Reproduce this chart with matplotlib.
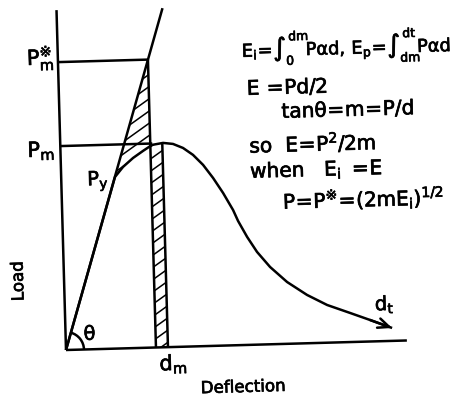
import matplotlib
matplotlib.use('Agg')
import matplotlib.pyplot as plt
import matplotlib.patheffects as pe
import numpy as np
from matplotlib.patches import Arc, Polygon
from matplotlib.collections import LineCollection
from matplotlib.transforms import Affine2D

# load-deflection sketch, values
# (origin at the corner of the axes, same unit on both axes)
curve_d = [0, 53.8, 62.1, 72.4, 82.6, 91.7, 102.8, 112.7, 122.6, 132.4, 142.2,
           151.8, 161.4, 170.9, 175.6, 184.2, 193.7, 206.3, 222.9, 242.5,
           262.3, 285.0, 304.8, 326.6]
curve_p = [0, 171.6, 181.4, 190.1, 196.9, 202.6, 204.3, 203.0, 198.7, 191.5,
           181.2, 167.9, 152.6, 135.3, 124.2, 108.0, 92.7, 77.3, 61.8, 48.3,
           37.7, 29.1, 21.5, 12.9]
elastic_d = [0, 106]
elastic_p = [0, 339]
d_y = 53.8           # yield point P_y
d_m = 90             # deflection at max load
d_m_right = 102      # right side of the thin strip
P_m = 204
P_m_star = 288
x_end = 341
y_end = 340

equations = [
    r'$\mathregular{E_i\!=\!\int_0^{dm}\!P\alpha d,\,E_p\!=\!\int_{dm}^{dt}\!P\alpha d}$',
    r'$\mathregular{E\,=\!Pd/2}$',
    r'$\mathregular{tan\theta\!=\!m\!=\!P/d}$',
    r'$\mathregular{so\ \ E\!=\!P^2/2m}$',
    r'$\mathregular{when\ \ \ E_i\ =\!E}$',
    r'$\mathregular{P\!=\!P^{※}\!=\!(2mE_i)^{1/2}}$',
]
eq_pos = [(184, 288), (188, 250), (222, 226), (189, 192), (189, 167), (221, 135)]
eq_size = [12.8, 14.5, 14.5, 14.5, 14.5, 14.5]

ROT = 1.6   # the scan is turned a little
LW = 1.8
FS = 15

fig = plt.figure(figsize=(4.62, 3.99), dpi=100)
ax = fig.add_axes([0, 0, 1, 1])
ax.set_xlim(-66, 396)
ax.set_ylim(-49, 350)
ax.axis('off')
tr = Affine2D().rotate_deg(ROT) + ax.transData

def line(xs, ys, **kw):
    ax.plot(xs, ys, color='k', lw=LW, transform=tr, solid_capstyle='butt', **kw)

# axes
line([0, x_end], [0, 0])
line([0, 0], [0, y_end])
# elastic line and load curve
line(elastic_d, elastic_p)
line(curve_d, curve_p)
# guide lines
line([0, d_m], [P_m_star, P_m_star])
line([0, d_m + 2], [P_m, P_m])
line([d_m, d_m], [0, P_m_star])
p_right = np.interp(d_m_right, curve_d, curve_p)
line([d_m_right, d_m_right], [0, p_right])

ax.annotate('', xy=(curve_d[-1], curve_p[-1]), xytext=(curve_d[-2], curve_p[-2]),
            xycoords=tr, textcoords=tr,
            arrowprops=dict(arrowstyle='->,head_length=0.8,head_width=0.35',
                            lw=LW, color='k', shrinkA=0, shrinkB=0))

# hatched regions
cd = np.array(curve_d)
cp = np.array(curve_p)
p_dm = np.interp(d_m, cd, cp)
inner = (cd > d_y) & (cd < d_m)
tri = [(d_y, d_y * P_m_star / d_m), (d_m, P_m_star), (d_m, p_dm)]
tri += list(zip(cd[inner][::-1], cp[inner][::-1]))
strip_in = (cd > d_m) & (cd < d_m_right)
strip = [(d_m, 0), (d_m_right, 0), (d_m_right, p_right)]
strip += list(zip(cd[strip_in][::-1], cp[strip_in][::-1])) + [(d_m, p_dm)]

slope = np.tan(np.radians(34))
segs = [[(0, c), (400, c + 400 * slope)] for c in np.arange(-400, 400, 12)]
for poly in (tri, strip):
    patch = Polygon(poly, closed=True, fill=False, lw=0, transform=tr)
    ax.add_patch(patch)
    lc = LineCollection(segs, colors='k', linewidths=1.1, transform=tr)
    ax.add_collection(lc)
    lc.set_clip_path(patch)

# angle
theta2 = np.degrees(np.arctan2(elastic_p[1], elastic_d[1]))
ax.add_patch(Arc((0, 0), 36, 36, theta1=0, theta2=theta2, color='k', lw=LW, transform=tr))

thick = [pe.withStroke(linewidth=0.5, foreground='k')]

def label(x, y, s, size=FS, **kw):
    kw.setdefault('ha', 'left')
    kw.setdefault('va', 'baseline')
    ax.text(x, y, s, fontsize=size, transform=tr, rotation=kw.pop('rot', 0) + ROT,
            rotation_mode='anchor', path_effects=thick, **kw)

label(-31, 286, r'$\mathregular{P_m^{※}}$')
label(-33, 194, r'$\mathregular{P_m}$')
label(26, 164, r'$\mathregular{P_y}$', size=14)
label(24, 15, 'θ', size=14, ha='center', va='center')
label(93, -23, r'$\mathregular{d_m}$')
label(310, 31, r'$\mathregular{d_t}$', size=14)
label(176, -47, 'Deflection', size=12, ha='center')
label(-46, 70, 'Load', size=12, ha='center', va='center', rot=90)

for s, (x, y), fs in zip(equations, eq_pos, eq_size):
    label(x, y, s, size=fs)

fig.savefig('out.png', dpi=100)
